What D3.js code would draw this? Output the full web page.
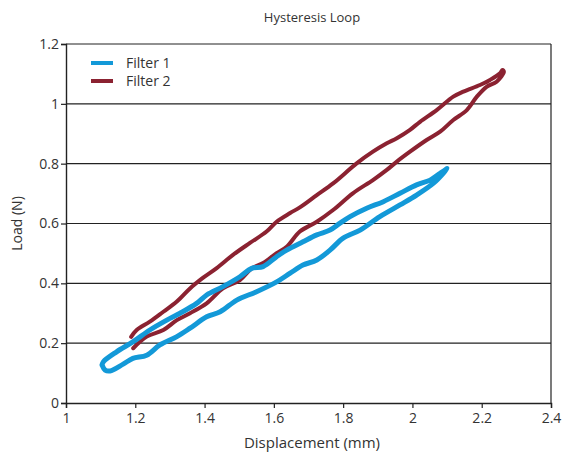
<!DOCTYPE html>
<html>
<head>
<meta charset="utf-8">
<script src="https://cdn.jsdelivr.net/npm/d3@7"></script>
<style>
  html, body { margin: 0; padding: 0; background: #fff; }
  text { font-family: "Open Sans", Lato, sans-serif; fill: #333; }
</style>
</head>
<body>
<svg id="chart" width="566" height="454"></svg>
<script>
const title = "Hysteresis Loop";
const xLabel = "Displacement (mm)";
const yLabel = "Load (N)";
const xTicks = [1, 1.2, 1.4, 1.6, 1.8, 2, 2.2, 2.4];
const yTicks = [0, 0.2, 0.4, 0.6, 0.8, 1, 1.2];
const seriesNames = ["Filter 1", "Filter 2"];
const seriesColors = ["#1399d8", "#8b2231"];

// Filter 1: [displacement, load]
const filter1 = [
  [1.104,0.127],[1.113,0.110],[1.127,0.107],[1.165,0.130],[1.193,0.149],[1.233,0.160],
  [1.271,0.194],[1.320,0.222],[1.358,0.250],[1.406,0.288],[1.445,0.305],[1.493,0.344],
  [1.550,0.372],[1.608,0.405],[1.647,0.434],[1.684,0.461],[1.724,0.478],[1.762,0.511],
  [1.800,0.551],[1.849,0.578],[1.906,0.623],[1.964,0.662],[2.012,0.695],[2.060,0.734],
  [2.089,0.768],[2.100,0.784],[2.094,0.779],[2.080,0.768],[2.051,0.745],[2.012,0.729],
  [1.964,0.701],[1.916,0.673],[1.868,0.651],[1.820,0.623],[1.791,0.601],[1.762,0.578],
  [1.724,0.562],[1.684,0.539],[1.637,0.511],[1.608,0.489],[1.569,0.456],[1.536,0.450],
  [1.502,0.422],[1.453,0.389],[1.406,0.361],[1.377,0.333],[1.329,0.300],[1.291,0.277],
  [1.242,0.244],[1.194,0.205],[1.146,0.171],[1.108,0.138],[1.104,0.127]
];

// Filter 2: [displacement, load]
const filter2 = [
  [1.194,0.183],[1.233,0.222],[1.281,0.244],[1.320,0.277],[1.358,0.300],[1.406,0.333],
  [1.453,0.383],[1.502,0.411],[1.536,0.450],[1.569,0.468],[1.608,0.501],[1.637,0.522],
  [1.675,0.573],[1.724,0.606],[1.771,0.645],[1.828,0.701],[1.886,0.745],[1.926,0.779],
  [1.955,0.807],[1.993,0.840],[2.041,0.879],[2.080,0.907],[2.118,0.946],[2.157,0.979],
  [2.186,1.024],[2.214,1.057],[2.243,1.074],[2.264,1.107],[2.260,1.113],[2.253,1.102],
  [2.224,1.080],[2.195,1.063],[2.147,1.041],[2.118,1.024],[2.070,0.979],[2.022,0.940],
  [1.993,0.913],[1.955,0.885],[1.926,0.868],[1.886,0.840],[1.839,0.801],[1.771,0.734],
  [1.724,0.695],[1.675,0.654],[1.647,0.635],[1.608,0.606],[1.579,0.573],[1.531,0.535],
  [1.482,0.495],[1.435,0.451],[1.395,0.418],[1.358,0.383],[1.320,0.339],[1.281,0.305],
  [1.242,0.272],[1.204,0.244],[1.188,0.221]
];

const svg = d3.select("#chart");
const margin = {left: 66, right: 15, top: 44, bottom: 51};
const W = 566, H = 454;
const x = d3.scaleLinear().domain([1, 2.4]).range([margin.left, W - margin.right]);
const y = d3.scaleLinear().domain([0, 1.2]).range([H - margin.bottom, margin.top]);

// gridlines
svg.append("g").selectAll("line").data(yTicks.filter(d => d > 0)).join("line")
  .attr("x1", x(1)).attr("x2", x(2.4))
  .attr("y1", d => y(d)).attr("y2", d => y(d))
  .attr("stroke", "#222").attr("stroke-width", 1.2);
// right border
svg.append("line").attr("x1", x(2.4)).attr("x2", x(2.4)).attr("y1", y(0)).attr("y2", y(1.2))
  .attr("stroke", "#222").attr("stroke-width", 1.2);

// axes
const xAxis = svg.append("g").attr("transform", `translate(0,${y(0)})`)
  .call(d3.axisBottom(x).tickValues(xTicks).tickFormat(d3.format("")).tickSize(5).tickPadding(5));
const yAxis = svg.append("g").attr("transform", `translate(${x(1)},0)`)
  .call(d3.axisLeft(y).tickValues(yTicks).tickFormat(d3.format("")).tickSize(5).tickPadding(2));
[xAxis, yAxis].forEach(a => {
  a.select(".domain").attr("stroke", "#222").attr("stroke-width", 1.4);
  a.selectAll(".tick line").attr("stroke", "#222").attr("stroke-width", 1.2);
  a.selectAll(".tick text").attr("font-size", 14).attr("fill", "#333")
    .style("font-family", "'Open Sans', Lato, sans-serif");
});

const line = d3.line().x(d => x(d[0])).y(d => y(d[1])).curve(d3.curveCatmullRom.alpha(0.5));

svg.append("path").datum(filter2).attr("d", line)
  .attr("fill", "none").attr("stroke", seriesColors[1]).attr("stroke-width", 4)
  .attr("stroke-linejoin", "round").attr("stroke-linecap", "round");
svg.append("path").datum(filter1).attr("d", line)
  .attr("fill", "none").attr("stroke", seriesColors[0]).attr("stroke-width", 5)
  .attr("stroke-linejoin", "round").attr("stroke-linecap", "round");

// legend
const leg = svg.append("g");
seriesNames.forEach((n, i) => {
  const yy = 63 + i * 18;
  leg.append("line").attr("x1", 91).attr("x2", 113).attr("y1", yy).attr("y2", yy)
    .attr("stroke", seriesColors[i]).attr("stroke-width", 4);
  leg.append("text").attr("x", 126).attr("y", yy + 5).attr("font-size", 14).text(n);
});

// title and axis labels
svg.append("text").attr("x", 312).attr("y", 22).attr("text-anchor", "middle")
  .attr("font-size", 13).text(title);
svg.append("text").attr("x", 312).attr("y", 448).attr("text-anchor", "middle")
  .attr("font-size", 15).text(xLabel);
svg.append("text").attr("transform", `translate(22,${y(0.6)}) rotate(-90)`)
  .attr("text-anchor", "middle").attr("font-size", 14).text(yLabel);
</script>
</body>
</html>
